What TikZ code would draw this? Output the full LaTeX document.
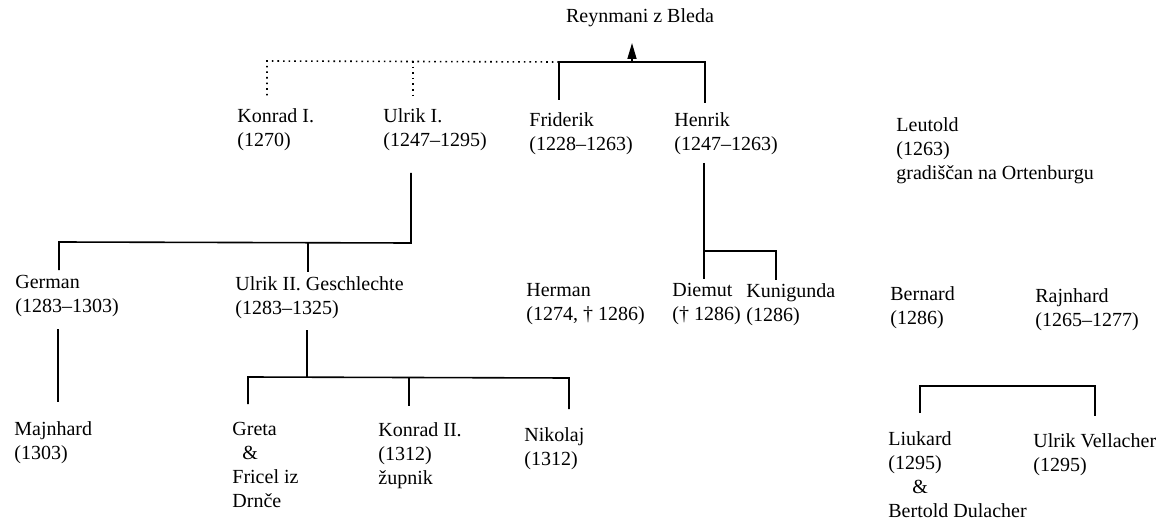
\documentclass[tikz,border=0pt]{standalone}
\usepackage{fontspec}
\setmainfont{Liberation Serif}
\usepackage{tikz}
\usetikzlibrary{arrows.meta,positioning}

\begin{document}
\begin{tikzpicture}[x=0.5pt,y=-0.5pt,>=Stealth,font=\fontsize{10pt}{12pt}\selectfont,
    person/.style={anchor=north west,inner sep=0pt,align=left},
    kin/.style={line width=0.8pt},
    kinguess/.style={line width=0.8pt,dotted}]
  \useasboundingbox (0,0) rectangle (1163,519);

  % rod
  \node[anchor=center,inner sep=0pt] (rod) at (640,18) {Reynmani z Bleda};

  % 1. rod
  \node[person] (konrad)   at (237,108) {Konrad I.\\(1270)};
  \node[person] (ulrikI)   at (383,108) {Ulrik I.\\(1247--1295)};
  \node[person] (friderik) at (529,112) {Friderik\\(1228--1263)};
  \node[person] (henrik)   at (674,112) {Henrik\\(1247--1263)};
  \node[person] (leutold)  at (896,117) {Leutold\\(1263)\\gradiščan na Ortenburgu};

  % 2. rod
  \node[person] (german)    at (15,275)  {German\\(1283--1303)};
  \node[person] (ulrikII)   at (235,276) {Ulrik II. Geschlechte\\(1283--1325)};
  \node[person] (herman)    at (526,283) {Herman\\(1274, † 1286)};
  \node[person] (diemut)    at (672,283) {Diemut\\(† 1286)};
  \node[person] (kunigunda) at (746,283) {Kunigunda\\(1286)};
  \node[person] (bernard)   at (890,286) {Bernard\\(1286)};
  \node[person] (rajnhard)  at (1035,288) {Rajnhard\\(1265--1277)};

  % 3. rod
  \node[person] (majnhard)  at (14,421)  {Majnhard\\(1303)};
  \node[person] (greta)     at (232,422) {Greta\\\hspace*{5pt}\&\\Fricel iz\\Drnče};
  \node[person] (konradII)  at (378,422) {Konrad II.\\(1312)\\župnik};
  \node[person] (nikolaj)   at (524,427) {Nikolaj\\(1312)};
  \node[person] (liukard)   at (888,431) {Liukard\\(1295)\\\hspace*{12pt}\&\\Bertold Dulacher};
  \node[person] (vellacher) at (1033,433) {Ulrik Vellacher\\(1295)};

  % vezni tocki
  \coordinate (top-l)  at (267,61);
  \coordinate (top-m)  at (413,61);
  \coordinate (top-r)  at (559,62);
  \coordinate (top-rr) at (705,62);
  \coordinate (rod-in) at (632,62);
  \coordinate (rod-to) at (632,43);
  \coordinate (ulI-a)  at (411,173);
  \coordinate (ulI-b)  at (411,243);
  \coordinate (ger-b)  at (59,242);
  \coordinate (ulII-b) at (308,243);
  \coordinate (ger-c)  at (58,329);
  \coordinate (ulII-c) at (307,330);
  \coordinate (ulII-d) at (307,377);
  \coordinate (gre-b)  at (248,377);
  \coordinate (kon-b)  at (409,377);
  \coordinate (nik-b)  at (569,378);
  \coordinate (hen-a)  at (704,163);
  \coordinate (hen-b)  at (704,251);
  \coordinate (kun-b)  at (776,251);
  \coordinate (liu-b)  at (920,386);
  \coordinate (vel-b)  at (1095,386);

  % povezave
  \draw[kinguess] (top-r) -- (top-l) -- ++(0,36);
  \draw[kinguess] (top-m) -- ++(0,36);
  \draw[kin] (top-r) ++(0,38) -- (top-r) -- (top-rr) -- ++(0,41);
  \draw[kin,-{Triangle[length=8pt,width=4.5pt]}] (rod-in) -- (rod-to);

  \draw[kin] (ulI-a) -- (ulI-b) -- (ger-b) -- ++(0,28);
  \draw[kin] (ulII-b) -- ++(0,29);
  \draw[kin] (ger-c) -- ++(0,73);
  \draw[kin] (ulII-c) -- (ulII-d);
  \draw[kin] (gre-b) ++(0,27) -- (gre-b) -- (nik-b) -- ++(0,31);
  \draw[kin] (kon-b) -- ++(0,29);
  \draw[kin] (hen-a) -- ++(0,116);
  \draw[kin] (hen-b) -- (kun-b) -- ++(0,29);
  \draw[kin] (liu-b) ++(0,27) -- (liu-b) -- (vel-b) -- ++(0,30);
\end{tikzpicture}
\end{document}
